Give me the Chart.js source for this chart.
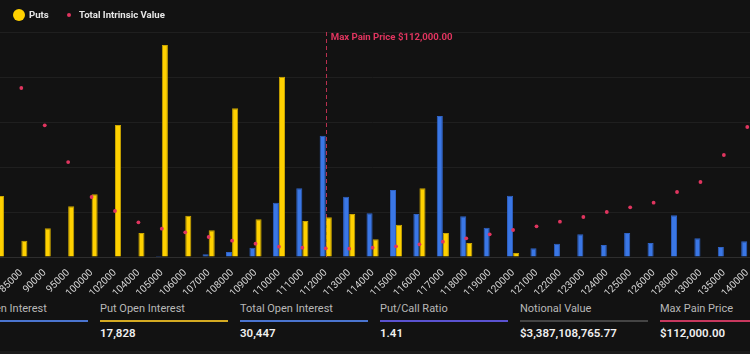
<!DOCTYPE html>
<html>
<head>
<meta charset="utf-8">
<script src="https://cdn.jsdelivr.net/npm/chart.js@4.4.0/dist/chart.umd.min.js"></script>
<style>
  html, body { margin:0; padding:0; background:#121212; width:750px; height:354px; overflow:hidden; font-family: Roboto, "Noto Sans", Arial, sans-serif; }
  #wrap { position:relative; width:750px; height:354px; overflow:hidden; }
  #cv { position:absolute; left:-24px; top:0; }
  .legend { position:absolute; top:8px; left:0; height:14px; font-size:9.6px; font-weight:700; color:#e6e6e6; }
  .legend span.dot { position:absolute; border-radius:50%; }
  .legend span.txt { position:absolute; top:0; line-height:14px; white-space:nowrap; }
  .card { position:absolute; top:300px; width:128px; }
  .card .lab { position:absolute; top:2px; left:0; font-size:11px; color:#b8b8b8; white-space:nowrap; }
  .card .bar { position:absolute; top:20px; left:0; width:128px; height:2px; }
  .card .val { position:absolute; top:26px; left:0; font-size:11.5px; font-weight:600; color:#f0f0f0; white-space:nowrap; }
  #bottomline { position:absolute; left:0; top:351px; width:750px; height:3px; background:#1b1b1b; }
</style>
</head>
<body>
<div id="wrap">
  <canvas id="cv"></canvas>
  <div class="legend">
    <span class="dot" style="left:13px; top:1px; width:12px; height:12px; background:#ffd100;"></span>
    <span class="txt" style="left:29px;">Puts</span>
    <span class="dot" style="left:67px; top:5px; width:4px; height:4px; background:#e0355f;"></span>
    <span class="txt" style="left:79px;">Total Intrinsic Value</span>
  </div>
  <div id="cards"></div>
  <div id="bottomline"></div>
</div>
<script>
// ---- data ----
const strikes = ['80000','85000','90000','95000','100000','102000','104000','105000','106000','107000','108000','109000','110000','111000','112000','113000','114000','115000','116000','117000','118000','119000','120000','121000','122000','123000','124000','125000','126000','128000','130000','135000','140000'];
const callsOI = [0,0,0,0,0,0,0,11,0,30,56,103,603,763,1348,670,486,744,478,1567,452,326,681,97,148,252,133,267,156,463,208,111,174];
const putsOI  = [678,181,319,563,697,1467,267,2356,459,297,1652,419,2003,400,441,478,197,359,763,267,156,0,44,0,0,0,0,0,0,0,0,0,0];
const intrinsicValueM = [458,375.6,292.6,211,133.3,102.2,77.1,62.9,54.9,44.4,36.2,29.6,22.9,20.7,19.3,18.4,20.7,23.8,28.2,34,41.6,50.4,60,68.2,78.4,88.9,100,110.4,120.7,144.4,166.7,226.7,288.9];
const maxPainStrike = '112000';
const maxPainLabel = 'Max Pain Price $112,000.00';

const cardLabels = ['Call Open Interest','Put Open Interest','Total Open Interest','Put/Call Ratio','Notional Value','Max Pain Price'];
const cardValues = ['12,619','17,828','30,447','1.41','$3,387,108,765.77','$112,000.00'];
const cardColors = ['#4a74cf','#d4aa22','#4a74cf','#5a52d0','#444444','#c8385e'];

// ---- stat cards ----
const cardsEl = document.getElementById('cards');
cardLabels.forEach((l, i) => {
  const d = document.createElement('div');
  d.className = 'card';
  d.style.left = (-40 + i * 140) + 'px';
  d.innerHTML = '<div class="lab">' + l + '</div><div class="bar" style="background:' + cardColors[i] + '"></div><div class="val">' + cardValues[i] + '</div>';
  cardsEl.appendChild(d);
});

// ---- max pain plugin ----
const maxPainPlugin = {
  id: 'maxPain',
  beforeDatasetsDraw(chart) {
    const x = chart.scales.x.getPixelForValue(strikes.indexOf(maxPainStrike));
    const { top, bottom } = chart.chartArea;
    const ctx = chart.ctx;
    ctx.save();
    ctx.strokeStyle = '#b8304f';
    ctx.lineWidth = 1;
    ctx.setLineDash([4, 3]);
    ctx.beginPath();
    ctx.moveTo(Math.round(x) + 0.5, top);
    ctx.lineTo(Math.round(x) + 0.5, bottom);
    ctx.stroke();
    ctx.setLineDash([]);
    ctx.fillStyle = '#e0355f';
    ctx.font = '700 9.6px Roboto, Arial, sans-serif';
    ctx.textBaseline = 'middle';
    ctx.fillText(maxPainLabel, x + 5, top + 6);
    ctx.restore();
  }
};

const canvas = document.getElementById('cv');
canvas.width = 793; canvas.height = 294;
canvas.style.width = '793px'; canvas.style.height = '294px';

new Chart(canvas, {
  type: 'bar',
  data: {
    labels: strikes,
    datasets: [
      { label: 'Calls', data: callsOI, backgroundColor: '#3a77e6', borderColor: '#2f62c4', borderWidth: 1, yAxisID: 'y', order: 2, categoryPercentage: 0.52, barPercentage: 1.0 },
      { label: 'Puts', data: putsOI, backgroundColor: '#ffd100', borderColor: '#c9a400', borderWidth: 1, yAxisID: 'y', order: 2, categoryPercentage: 0.52, barPercentage: 1.0 },
      { type: 'line', label: 'Total Intrinsic Value', data: intrinsicValueM, showLine: false, pointRadius: 1.9, pointHoverRadius: 1.9, pointBackgroundColor: '#e0355f', pointBorderWidth: 0, yAxisID: 'y1', order: 0 }
    ]
  },
  options: {
    responsive: false,
    animation: false,
    layout: { padding: { left: 0, right: 10, top: 32, bottom: 0 } },
    plugins: { legend: { display: false }, tooltip: { enabled: false } },
    scales: {
      x: {
        grid: { display: false },
        border: { display: true, color: '#2e2e2e' },
        ticks: { color: '#d6d6d6', font: { size: 10, family: 'Roboto, Arial, sans-serif' }, minRotation: 45, maxRotation: 45, autoSkip: false, padding: 2 },
        afterFit: (s) => { s.height = 37; }
      },
      y: {
        display: true,
        min: 0, max: 2500,
        ticks: { display: false, stepSize: 500 },
        grid: { color: '#1f1f1f', drawTicks: false },
        border: { display: false },
        afterFit: (s) => { s.width = 0; }
      },
      y1: {
        display: false,
        position: 'right',
        min: 0, max: 500
      }
    }
  },
  plugins: [maxPainPlugin]
});
</script>
</body>
</html>
